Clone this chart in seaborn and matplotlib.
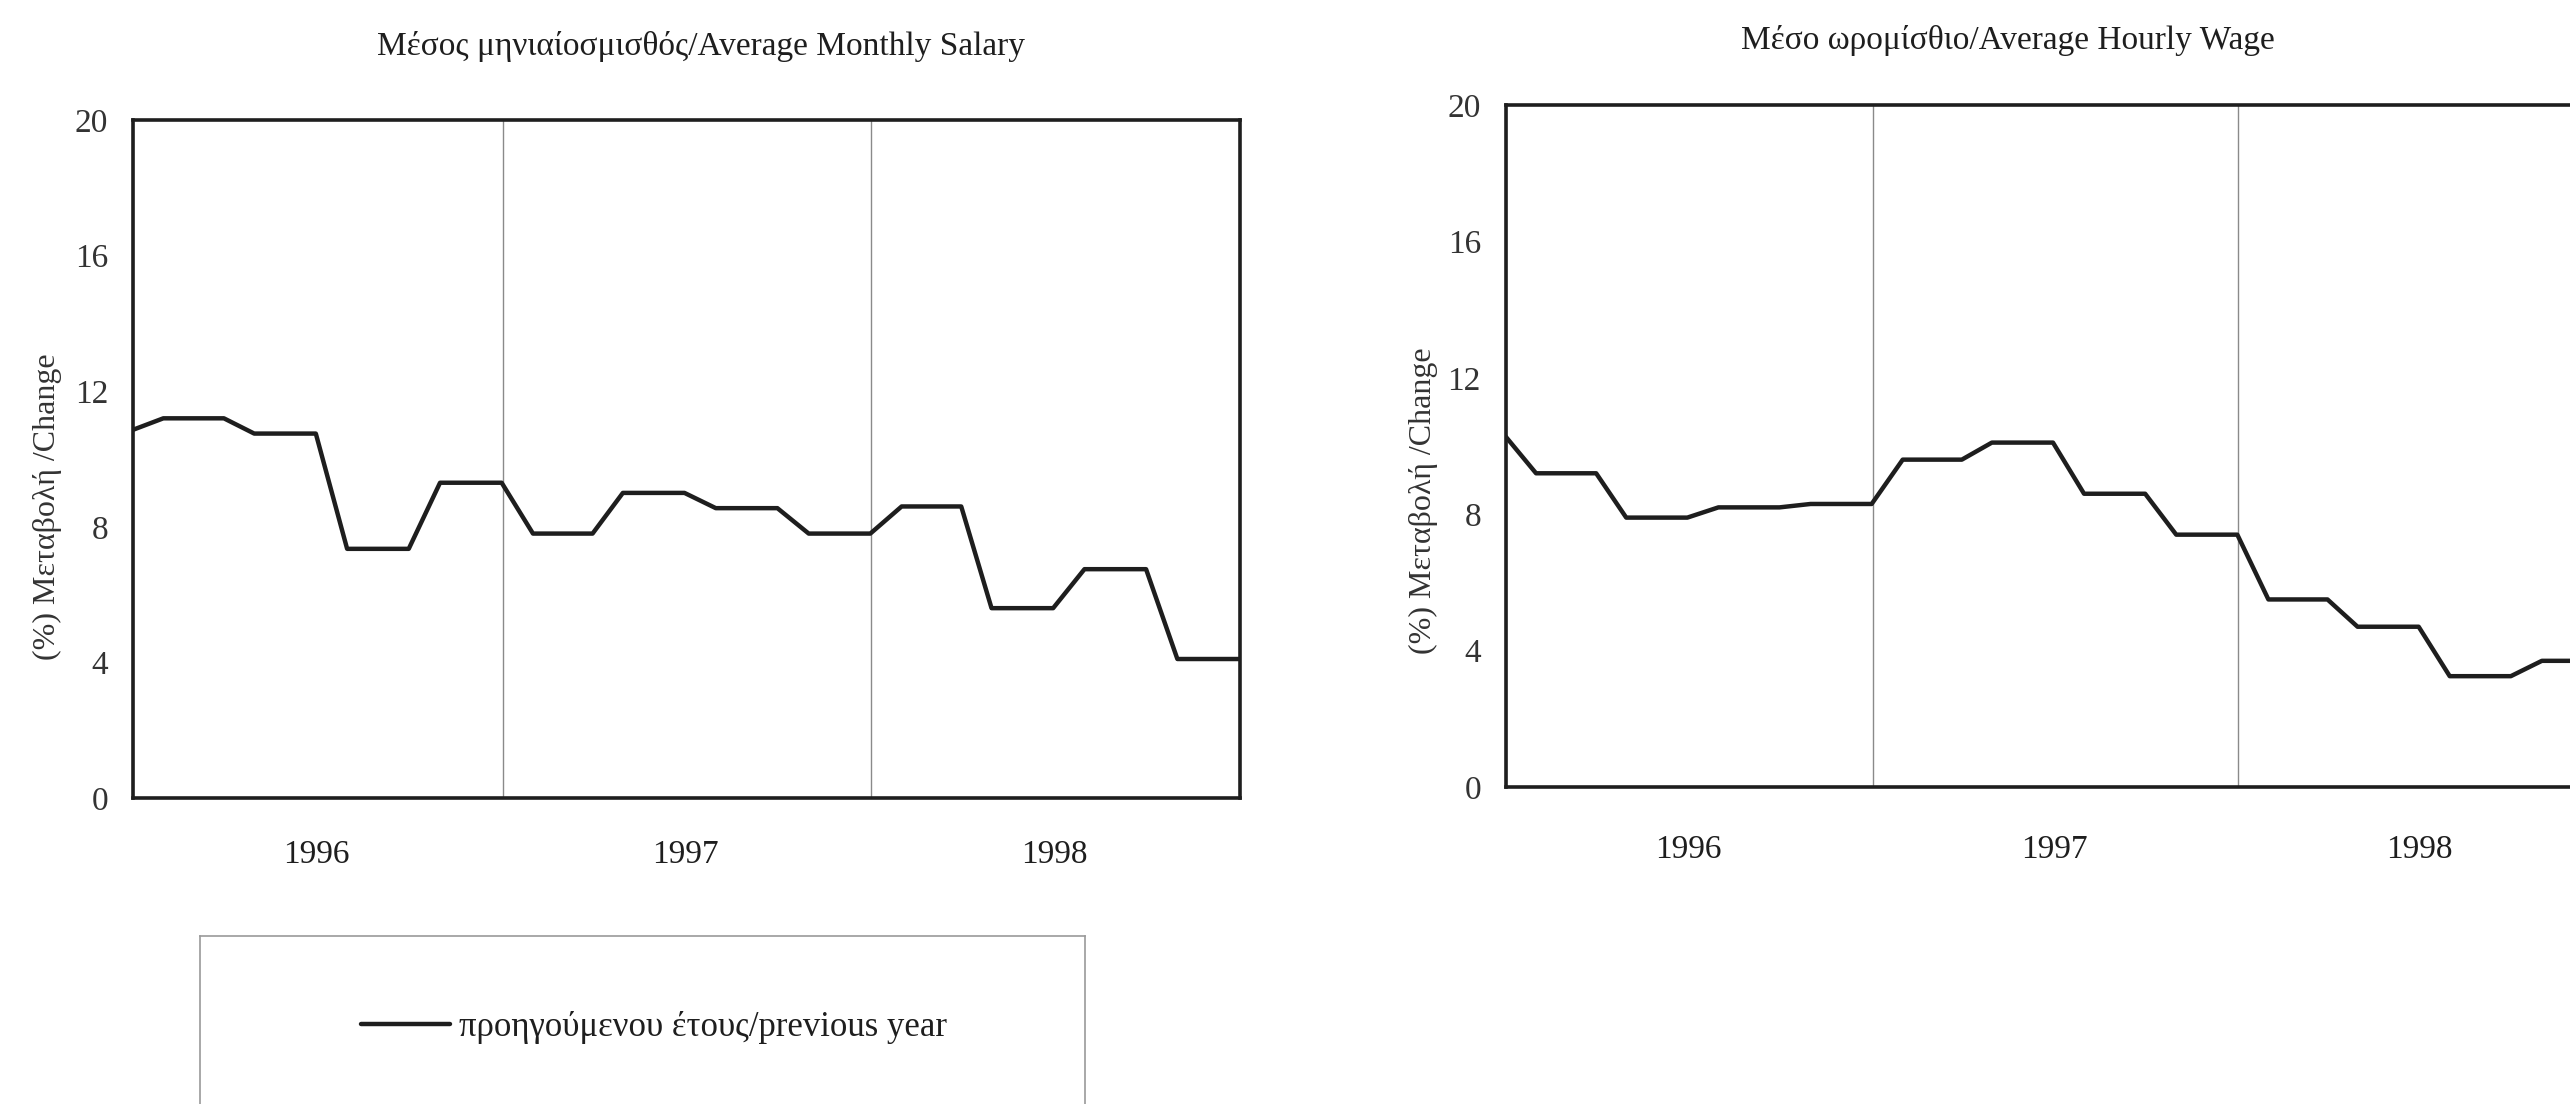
import numpy as np
import pandas as pd
import matplotlib
matplotlib.use("Agg")
import matplotlib.pyplot as plt
import matplotlib.dates as mdates
from matplotlib.lines import Line2D
import seaborn as sns

# ---- data: % change on previous year, month-end values Dec 1995 .. Dec 1998 ----
months = pd.date_range("1995-12-31", "1998-12-31", freq="ME")

salary_change = [10.85,
                 11.2, 11.2, 11.2, 10.75, 10.75, 10.75, 7.35, 7.35, 7.35, 9.3, 9.3, 9.3,
                 7.8, 7.8, 7.8, 9.0, 9.0, 9.0, 8.55, 8.55, 8.55, 7.8, 7.8, 7.8,
                 8.6, 8.6, 8.6, 5.6, 5.6, 5.6, 6.75, 6.75, 6.75, 4.1, 4.1, 4.1]

wage_change = [10.3,
               9.2, 9.2, 9.2, 7.9, 7.9, 7.9, 8.2, 8.2, 8.2, 8.3, 8.3, 8.3,
               9.6, 9.6, 9.6, 10.1, 10.1, 10.1, 8.6, 8.6, 8.6, 7.4, 7.4, 7.4,
               5.5, 5.5, 5.5, 4.7, 4.7, 4.7, 3.25, 3.25, 3.25, 3.7, 3.7, 3.7]

titles = ["Μέσος μηνιαίοσμισθός/Average Monthly Salary",
          "Μέσο ωρομίσθιο/Average Hourly Wage"]
ylabel = "(%) Μεταβολή /Change"
legend_label = "προηγούμενου έτους/previous year"
yticks = [0, 4, 8, 12, 16, 20]

# ---- style ----
sns.set_theme(style="white")
plt.rcParams["font.family"] = ["Liberation Serif", "DejaVu Serif"]
ink = "#1e1e1e"

fig = plt.figure(figsize=(25.7, 11.04), dpi=100)
# axes boxes in figure fractions (the right panel runs off the page as in the scan)
ax1 = fig.add_axes([133 / 2570, 1 - 798 / 1104, 1107 / 2570, 678 / 1104])
ax2 = fig.add_axes([1506 / 2570, 1 - 787 / 1104, 1098 / 2570, 682 / 1104])

panels = [(ax1, salary_change, titles[0], 0.513, 47, 30),
          (ax2, wage_change, titles[1], 0.457, 40, 34)]

for ax, vals, title, tx, tpad, xpad in panels:
    df = pd.DataFrame({"month": months, "change": vals})
    sns.lineplot(data=df, x="month", y="change", ax=ax, color=ink, lw=3.2)
    ax.set_xlim(pd.Timestamp("1996-01-01"), pd.Timestamp("1999-01-01"))
    ax.set_ylim(0, 20)
    ax.set_yticks(yticks)
    ax.xaxis.set_major_locator(mdates.YearLocator(month=7))
    ax.xaxis.set_major_formatter(mdates.DateFormatter("%Y"))
    ax.xaxis.set_minor_locator(mdates.YearLocator())
    ax.grid(False)
    ax.grid(which="minor", axis="x", color="#8a8a8a", lw=1.0)
    ax.tick_params(axis="x", which="both", length=0, pad=xpad, labelsize=24, labelcolor=ink)
    ax.tick_params(axis="y", direction="in", length=6, width=1, color="#b0b0b0",
                   pad=18, labelsize=24, labelcolor="#333333")
    for s in ax.spines.values():
        s.set_visible(True)
        s.set_color(ink)
        s.set_linewidth(2.6)
    ax.set_xlabel("")
    ax.set_ylabel(ylabel, fontsize=23, color="#333333")
    ax.set_title(title, fontsize=24, color=ink, pad=tpad, x=tx)

ax1.yaxis.set_label_coords(-0.064, 0.43)
ax2.yaxis.set_label_coords(-0.062, 0.42)

# legend box below the left panel (runs off the bottom of the page)
axl = fig.add_axes([200 / 2570, -76 / 1104, 885 / 2570, 244 / 1104])
axl.set_xticks([])
axl.set_yticks([])
for s in axl.spines.values():
    s.set_color("#9a9a9a")
    s.set_linewidth(1.2)
handle = Line2D([], [], color=ink, lw=3.2)
axl.legend([handle], [legend_label], loc="center", bbox_to_anchor=(0.513, 0.623),
           frameon=False, fontsize=25, handlelength=2.55, handletextpad=0.25,
           labelcolor=ink)

fig.savefig("out.png", dpi=100)
